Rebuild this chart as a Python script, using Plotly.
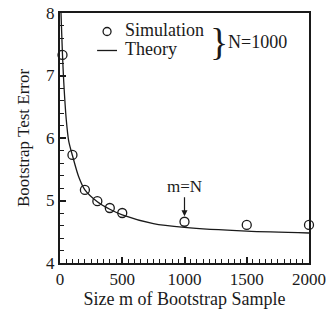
import plotly.graph_objects as go

sim_m = [20, 100, 200, 300, 400, 500, 1000, 1500, 2000]
sim_err = [7.33, 5.73, 5.17, 4.99, 4.88, 4.80, 4.66, 4.61, 4.61]

theory_m = [8, 15, 20, 30, 50, 70, 100, 150, 200, 300, 400, 500, 750, 1000, 1500, 2000]
theory_err = [8.0, 7.6, 7.33, 6.9, 6.3, 5.95, 5.72, 5.38, 5.17, 4.98, 4.86, 4.77, 4.63, 4.57, 4.51, 4.48]

x_ticks = [0, 500, 1000, 1500, 2000]
y_ticks = [4, 5, 6, 7, 8]

FONT = "Liberation Serif"
INK = "#1a1a1a"

fig = go.Figure()
fig.add_trace(go.Scatter(x=theory_m, y=theory_err, mode="lines", name="Theory",
                         line=dict(color=INK, width=1.3, shape="spline", smoothing=0.8),
                         showlegend=False))
fig.add_trace(go.Scatter(x=sim_m, y=sim_err, mode="markers", name="Simulation",
                         marker=dict(symbol="circle-open", size=9, color=INK,
                                     line=dict(width=1.3, color=INK)),
                         cliponaxis=False, showlegend=False))

fig.update_layout(
    template="none",
    width=332, height=313,
    margin=dict(l=60, r=23, t=13, b=50, autoexpand=False),
    plot_bgcolor="white", paper_bgcolor="white",
    font=dict(family=FONT, size=17, color=INK),
    xaxis=dict(range=[0, 2000], tickvals=x_ticks, ticks="inside", ticklen=6,
               tickwidth=1.5, tickcolor=INK, automargin=False,
               minor=dict(dtick=50, ticks="inside", ticklen=4, tickcolor=INK, tickwidth=1),
               showline=True, linecolor=INK, linewidth=2, mirror=True,
               showgrid=False, zeroline=False,
               title=dict(text="Size m of Bootstrap Sample", standoff=0,
                          font=dict(family=FONT, size=18)),
               tickfont=dict(family=FONT, size=17)),
    yaxis=dict(range=[4, 8], tickvals=y_ticks, ticks="inside", ticklen=6,
               tickwidth=1.5, tickcolor=INK, automargin=False,
               minor=dict(dtick=0.2, ticks="inside", ticklen=4, tickcolor=INK, tickwidth=1),
               showline=True, linecolor=INK, linewidth=2, mirror=True,
               showgrid=False, zeroline=False,
               title=dict(text="Bootstrap Test Error", standoff=12,
                          font=dict(family=FONT, size=17)),
               tickfont=dict(family=FONT, size=17)),
)

# legend drawn manually
fig.add_shape(type="circle", xref="paper", yref="paper",
              x0=0.189 - 0.016, x1=0.189 + 0.016, y0=0.926 - 0.016, y1=0.926 + 0.016,
              line=dict(color=INK, width=1.3))
fig.add_shape(type="line", xref="paper", yref="paper",
              x0=0.149, x1=0.229, y0=0.85, y1=0.85, line=dict(color=INK, width=1.3))
fig.add_annotation(xref="paper", yref="paper", x=0.255, y=0.93, text="Simulation",
                   showarrow=False, xanchor="left", yanchor="middle",
                   font=dict(family=FONT, size=18, color=INK))
fig.add_annotation(xref="paper", yref="paper", x=0.255, y=0.855, text="Theory",
                   showarrow=False, xanchor="left", yanchor="middle",
                   font=dict(family=FONT, size=18, color=INK))
fig.add_annotation(xref="paper", yref="paper", x=0.595, y=0.885, text="}",
                   showarrow=False, xanchor="left", yanchor="middle",
                   font=dict(family=FONT, size=38, color=INK))
fig.add_annotation(xref="paper", yref="paper", x=0.665, y=0.885, text="N=1000",
                   showarrow=False, xanchor="left", yanchor="middle",
                   font=dict(family=FONT, size=18, color=INK))

fig.add_annotation(x=1000, y=4.75, ax=0, ay=-30, text="m=N", showarrow=True,
                   arrowhead=2, arrowsize=1, arrowwidth=1.2, arrowcolor=INK,
                   font=dict(family=FONT, size=17, color=INK))

fig.write_html("out.html", config={"displayModeBar": False},
               post_script="document.body.style.margin='0';")
